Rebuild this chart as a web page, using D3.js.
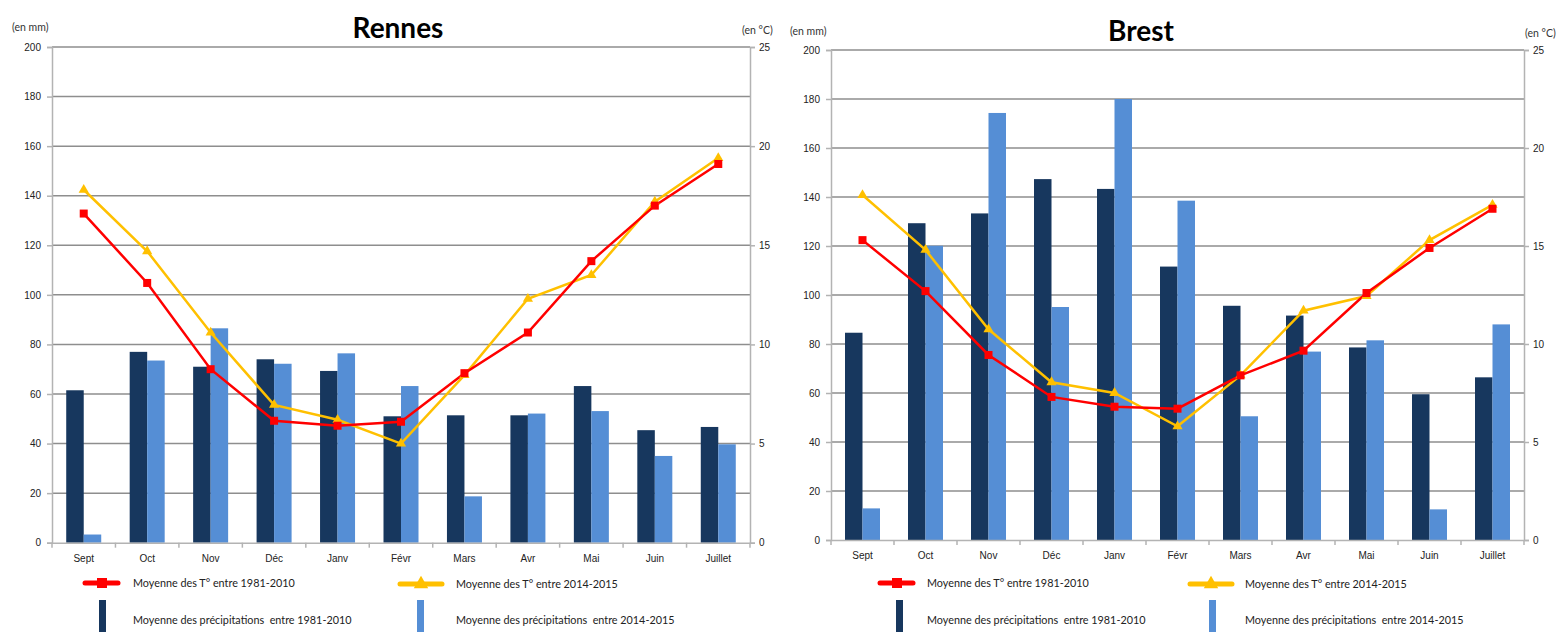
<!DOCTYPE html>
<html>
<head>
<meta charset="utf-8">
<script src="https://cdn.jsdelivr.net/npm/d3@7"></script>
<style>
  body { margin: 0; background: #fff; }
  svg { font-family: Lato, "Open Sans", sans-serif; }
  .leg { white-space: pre; }
</style>
</head>
<body>
<div id="plot"></div>
<script>
// months on the x axis
var months = ['Sept','Oct','Nov','Déc','Janv','Févr','Mars','Avr','Mai','Juin','Juillet'];

// Rennes
var rennesPrecip1981 = [61.5, 77, 71, 74, 69.3, 51, 51.4, 51.4, 63.2, 45.4, 46.7];
var rennesPrecip2014 = [3.3, 73.5, 86.5, 72.2, 76.4, 63.2, 18.7, 52.1, 53.1, 35, 39.7];
var rennesTemp1981 = [16.6, 13.1, 8.75, 6.15, 5.9, 6.1, 8.55, 10.6, 14.2, 17.0, 19.1];
var rennesTemp2014 = [17.8, 14.7, 10.6, 6.95, 6.2, 5.0, 8.45, 12.3, 13.5, 17.2, 19.4];

// Brest
var brestPrecip1981 = [84.6, 129.3, 133.3, 147.3, 143.3, 111.6, 95.6, 91.6, 78.6, 59.5, 66.4];
var brestPrecip2014 = [12.9, 120.1, 174.3, 95.1, 180, 138.5, 50.5, 76.9, 81.5, 12.5, 88];
var brestTemp1981 = [15.3, 12.7, 9.44, 7.3, 6.8, 6.7, 8.4, 9.66, 12.6, 14.9, 16.9];
var brestTemp2014 = [17.6, 14.8, 10.75, 8.05, 7.5, 5.8, 8.4, 11.7, 12.45, 15.3, 17.1];

var mmTicks = [0,20,40,60,80,100,120,140,160,180,200];
var degTicks = [0,5,10,15,20,25];

var legendLabels = {
  t1981: 'Moyenne des T° entre 1981-2010',
  t2014: 'Moyenne des T° entre 2014-2015',
  p1981: 'Moyenne des précipitations  entre 1981-2010',
  p2014: 'Moyenne des précipitations  entre 2014-2015'
};

var dark = '#17375e', light = '#558ed5', red = '#ff0000', yellow = '#ffc000';
var grid = '#8e8e8e', axisCol = '#b3b3b3';

var svg = d3.select('#plot').append('svg')
  .attr('width', 1561).attr('height', 632);

function drawChart(c) {
  var g = svg.append('g');

  var x = d3.scaleBand().domain(months).range([c.l, c.r]);
  var xBar = d3.scaleBand().domain(['a','b']).range([0, 35]);
  var yMm = d3.scaleLinear().domain([0,200]).range([c.b, c.t]);
  var yDeg = d3.scaleLinear().domain([0,25]).range([c.b, c.t]);

  // gridlines
  g.selectAll('.grid').data(mmTicks.slice(1)).enter().append('line')
    .attr('x1', c.l).attr('x2', c.r)
    .attr('y1', function(d){ return yMm(d); })
    .attr('y2', function(d){ return yMm(d); })
    .style('stroke', grid).style('stroke-width', 1.5);

  // left axis
  var left = g.append('g').attr('transform','translate('+c.l+',0)')
    .call(d3.axisLeft(yMm).tickValues(mmTicks).tickSize(5).tickPadding(6));
  left.select('.domain').style('stroke', axisCol).style('stroke-width', 1.5);
  left.selectAll('.tick line').style('stroke', axisCol).style('stroke-width', 1.5);
  left.selectAll('text').style('font-size','10px').style('fill','#222');

  // right axis
  var right = g.append('g').attr('transform','translate('+c.r+',0)')
    .call(d3.axisRight(yDeg).tickValues(degTicks).tickSize(5).tickPadding(4));
  right.select('.domain').style('stroke', axisCol).style('stroke-width', 1.5);
  right.selectAll('.tick line').style('stroke', axisCol).style('stroke-width', 1.5);
  right.selectAll('text').style('font-size','10px').style('fill','#222');

  // bars
  var rows = months.map(function(m, i){ return {m: m, p1: c.p1[i], p2: c.p2[i]}; });
  var grp = g.selectAll('.grp').data(rows).enter().append('g')
    .attr('transform', function(d){ return 'translate('+(x(d.m)+x.bandwidth()/2-17.5)+',0)'; });
  grp.append('rect')
    .attr('x', xBar('a')).attr('width', xBar.bandwidth())
    .attr('y', function(d){ return yMm(d.p1); })
    .attr('height', function(d){ return c.b - yMm(d.p1); })
    .style('fill', dark);
  grp.append('rect')
    .attr('x', xBar('b')).attr('width', xBar.bandwidth())
    .attr('y', function(d){ return yMm(d.p2); })
    .attr('height', function(d){ return c.b - yMm(d.p2); })
    .style('fill', light);

  // bottom axis
  var bottom = g.append('g').attr('transform','translate(0,'+c.b+')')
    .call(d3.axisBottom(x).tickSize(0).tickPadding(12));
  bottom.select('.domain').style('stroke', axisCol).style('stroke-width', 1.5);
  bottom.selectAll('text').style('font-size','10px').style('fill','#222');
  bottom.selectAll('.sep').data(months.concat(['end'])).enter().append('line')
    .attr('x1', function(d,i){ return c.l + i*x.step(); })
    .attr('x2', function(d,i){ return c.l + i*x.step(); })
    .attr('y1', 0).attr('y2', 5)
    .style('stroke', axisCol).style('stroke-width', 1.5);

  // temperature lines
  var line = d3.line()
    .x(function(d,i){ return x(months[i]) + x.bandwidth()/2; })
    .y(function(d){ return yDeg(d); });

  g.append('path').datum(c.t2).attr('d', line)
    .style('fill','none').style('stroke', yellow).style('stroke-width', 2.5);
  g.append('path').datum(c.t1).attr('d', line)
    .style('fill','none').style('stroke', red).style('stroke-width', 2.5);

  var tri = d3.symbol().type(d3.symbolTriangle).size(45);
  g.selectAll('.tri').data(c.t2).enter().append('path')
    .attr('d', tri)
    .attr('transform', function(d,i){ return 'translate('+(x(months[i])+x.bandwidth()/2)+','+yDeg(d)+')'; })
    .style('fill', yellow);
  g.selectAll('.sq').data(c.t1).enter().append('rect')
    .attr('x', function(d,i){ return x(months[i]) + x.bandwidth()/2 - 4; })
    .attr('y', function(d){ return yDeg(d) - 4; })
    .attr('width', 8).attr('height', 8)
    .style('fill', red);

  // title and units
  g.append('text').attr('x', c.titleX).attr('y', c.titleY)
    .attr('text-anchor','middle')
    .style('font-size','28px').style('font-weight','bold').style('fill','#000')
    .text(c.title);
  g.append('text').attr('x', c.mmX).attr('y', c.mmY)
    .style('font-size','10.5px').style('fill','#333').text('(en mm)');
  g.append('text').attr('x', c.degX).attr('y', c.degY)
    .style('font-size','10.5px').style('fill','#333').text('(en °C)');

  // legend
  var L = c.leg;
  g.append('line').attr('x1', L.x1).attr('x2', L.x1+33).attr('y1', 583).attr('y2', 583)
    .style('stroke', red).style('stroke-width', 5).style('stroke-linecap','round');
  g.append('rect').attr('x', L.x1+12).attr('y', 578).attr('width', 10).attr('height', 10).style('fill', red);
  g.append('text').attr('class','leg').attr('x', L.tx1).attr('y', 587).style('font-size','10.8px').style('fill','#222').text(legendLabels.t1981);

  g.append('line').attr('x1', L.x2).attr('x2', L.x2+42).attr('y1', 584).attr('y2', 584)
    .style('stroke', yellow).style('stroke-width', 5).style('stroke-linecap','round');
  g.append('path').attr('d', d3.symbol().type(d3.symbolTriangle).size(90))
    .attr('transform','translate('+(L.x2+21)+',584)').style('fill', yellow);
  g.append('text').attr('class','leg').attr('x', L.tx2).attr('y', 588).style('font-size','10.8px').style('fill','#222').text(legendLabels.t2014);

  g.append('rect').attr('x', L.b1).attr('y', 600).attr('width', 7).attr('height', 32).style('fill', dark);
  g.append('text').attr('class','leg').attr('x', L.tx1).attr('y', 624).style('font-size','10.8px').style('fill','#222').text(legendLabels.p1981);
  g.append('rect').attr('x', L.b2).attr('y', 600).attr('width', 7).attr('height', 32).style('fill', light);
  g.append('text').attr('class','leg').attr('x', L.tx2).attr('y', 624).style('font-size','10.8px').style('fill','#222').text(legendLabels.p2014);
}

drawChart({
  title: 'Rennes', titleX: 398, titleY: 38,
  l: 52, r: 750, t: 47, b: 542.7,
  mmX: 12, mmY: 31, degX: 742, degY: 34,
  p1: rennesPrecip1981, p2: rennesPrecip2014, t1: rennesTemp1981, t2: rennesTemp2014,
  leg: {x1: 85, tx1: 133, x2: 400, tx2: 456, b1: 99, b2: 417}
});

drawChart({
  title: 'Brest', titleX: 1141, titleY: 41,
  l: 831, r: 1524, t: 50, b: 540,
  mmX: 790, mmY: 35, degX: 1525, degY: 37,
  p1: brestPrecip1981, p2: brestPrecip2014, t1: brestTemp1981, t2: brestTemp2014,
  leg: {x1: 880, tx1: 927, x2: 1190, tx2: 1245, b1: 896, b2: 1209}
});
</script>
</body>
</html>
